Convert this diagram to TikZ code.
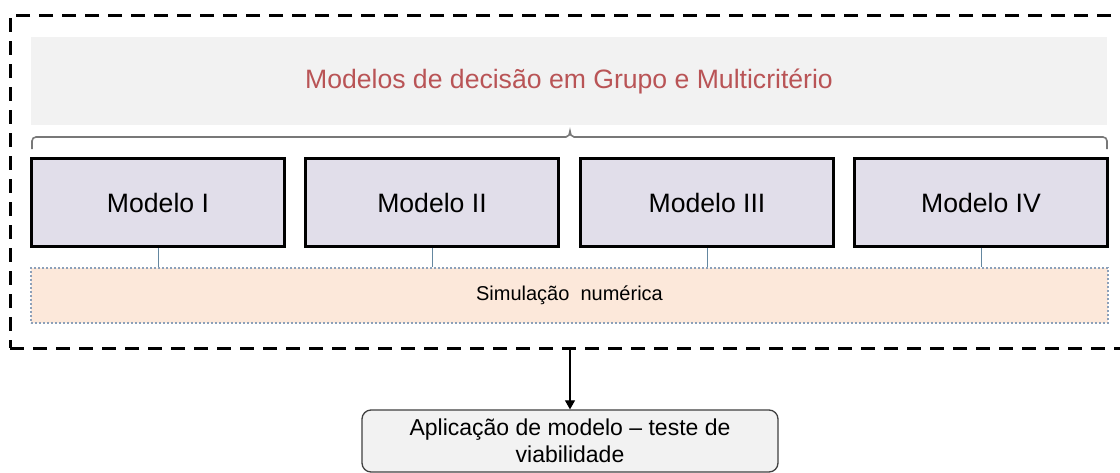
\documentclass[tikz,border=0pt]{standalone}
\usepackage{fontspec}
\setmainfont{Liberation Sans}
\usetikzlibrary{arrows.meta}
\definecolor{titlered}{RGB}{185,84,86}
\definecolor{panelgray}{RGB}{242,242,242}
\definecolor{modelfill}{RGB}{225,222,234}
\definecolor{simfill}{RGB}{252,232,218}
\definecolor{simborder}{RGB}{140,160,185}
\definecolor{linkblue}{RGB}{100,135,160}
\definecolor{bracegray}{RGB}{120,120,120}
\tikzset{
  modelbox/.style={draw=black, line width=2.6pt, fill=modelfill, minimum width=253pt, minimum height=88pt, inner sep=0pt, font=\fontsize{26.6}{30}\selectfont},
  link/.style={draw=linkblue, line width=0.9pt},
}
\begin{document}
\begin{tikzpicture}[x=1pt,y=-1pt]
\useasboundingbox (0,0) rectangle (1120,472);
\fill[white] (0,0) rectangle (1120,472);
% outer dashed frame (right side beyond the picture)
\node[draw=black, line width=3pt, dash pattern=on 14pt off 9pt, minimum width=1120pt, minimum height=333pt, inner sep=0pt] (outer) at (570,181.5) {};
% title panel
\node[fill=panelgray, minimum width=1076pt, minimum height=88pt, inner sep=0pt, text=titlered, font=\fontsize{26.6}{30}\selectfont] (title) at (569,81) {Modelos de decisão em Grupo e Multicritério};
% brace
\draw[bracegray, line width=1.6pt] (32,149) -- (32,141) to[out=90,in=180] (36,137) -- (566,137) to[out=0,in=-90] (570,131) to[out=-90,in=180] (574,137) -- (1103,137) to[out=0,in=90] (1107,141) -- (1107,149);
% model boxes
\node[modelbox] (m1) at (158,202.5) {Modelo I};
\node[modelbox] (m2) at (432,202.5) {Modelo II};
\node[modelbox] (m3) at (707,202.5) {Modelo III};
\node[modelbox] (m4) at (981,202.5) {Modelo IV};
% simulation box
\node[draw=simborder, line width=2.2pt, dash pattern=on 2pt off 2pt, fill=simfill, minimum width=1077pt, minimum height=55pt, inner sep=0pt, font=\fontsize{20}{24}\selectfont] (sim) at (569.5,295.5) {Simulação\ \ numérica};
\foreach \m in {m1,m2,m3,m4}{
  \draw[link] (\m.south) -- (\m.south |- sim.north);
}
% application box
\node[draw=black!75, line width=1.3pt, rounded corners=9pt, fill=panelgray, minimum width=416pt, minimum height=62pt, inner sep=0pt, align=center, font=\fontsize{23}{26.5}\selectfont] (app) at (570,441) {Aplicação de modelo – teste de\\viabilidade};
\draw[black, line width=1.1pt, -{Triangle[length=9pt,width=10pt]}] (outer.south) -- (app.north);
\end{tikzpicture}
\end{document}
